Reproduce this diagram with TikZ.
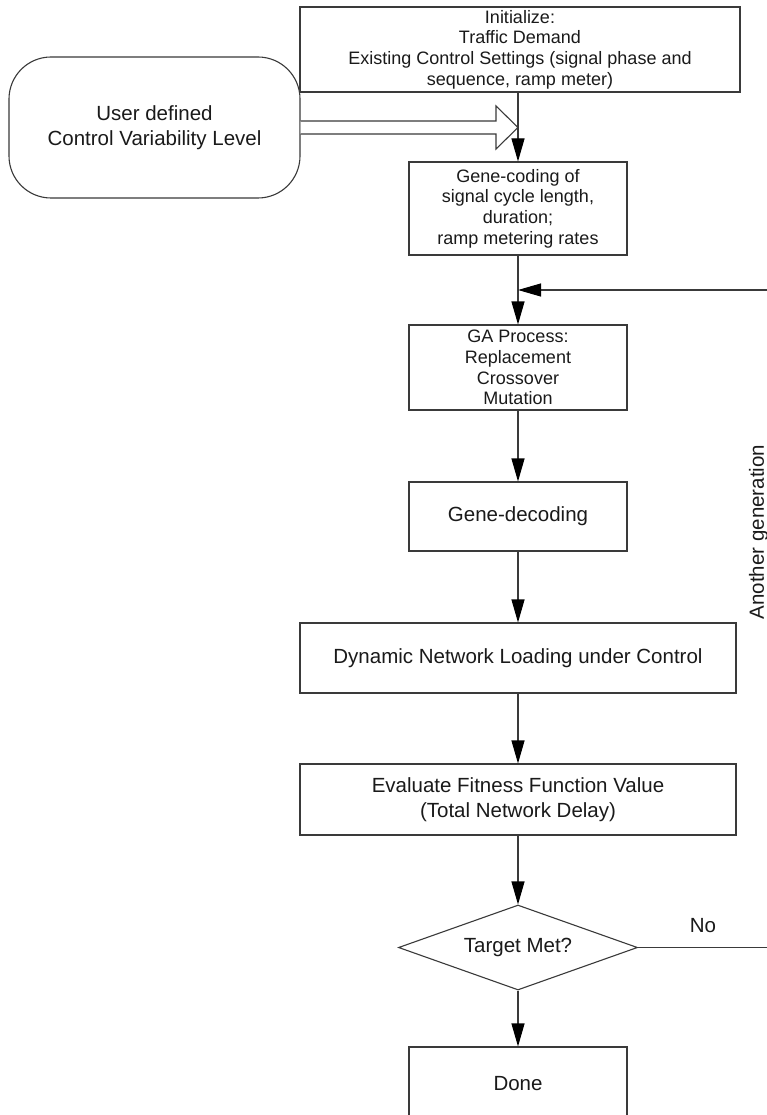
\documentclass[tikz,border=0pt]{standalone}
\usepackage{fontspec}
\setmainfont{Liberation Sans}
\usetikzlibrary{shapes.geometric,arrows.meta}
\definecolor{ln}{HTML}{3A3A3A}
\definecolor{tx}{HTML}{1A1A1A}
\begin{document}
\begin{tikzpicture}[x=1pt,y=-1pt,
  box/.style={draw=ln,line width=1.1pt,fill=white,inner sep=0pt,align=center,text=tx},
  big/.style={font=\fontsize{20.5}{24.5}\selectfont},
  small/.style={font=\fontsize{18}{20.7}\selectfont},
  arr/.style={draw=ln,line width=1.1pt,-{Triangle[length=23pt,width=13pt,fill=black,color=black]}},
  plain/.style={draw=ln,line width=1.1pt}]
\useasboundingbox[fill=white] (0,0) rectangle (767,1115);

% nodes
\node[box,small,minimum width=440,minimum height=85] (init) at (520,49.5)
  {Initialize:\\Traffic Demand\\Existing Control Settings (signal phase and\\sequence, ramp meter)};
\node[box,big,rounded corners=42pt,minimum width=291,minimum height=141] (user) at (154.5,127.5)
  {User defined\\Control Variability Level};
\node[box,small,minimum width=218,minimum height=93] (gene) at (518,208.5)
  {Gene-coding of\\signal cycle length,\\duration;\\ramp metering rates};
\node[box,small,minimum width=218,minimum height=85] (ga) at (518,367.5)
  {GA Process:\\Replacement\\Crossover\\Mutation};
\node[box,big,minimum width=218,minimum height=69] (dec) at (518,516.5) {Gene-decoding};
\node[box,big,minimum width=436,minimum height=70] (dyn) at (518,658)
  {Dynamic Network Loading under Control};
\node[box,big,minimum width=436,minimum height=71] (eval) at (518,799.5)
  {Evaluate Fitness Function Value\\(Total Network Delay)};
\node[box,big,diamond,aspect=2.8,minimum width=239,minimum height=85] (tm) at (518,947.5) {Target Met?};
\node[box,big,minimum width=218,minimum height=74] (done) at (518,1084) {Done};

\node[text=tx,big] (no) at (703,926) {No};
\node[text=tx,big,rotate=90] (ag) at (758.5,532) {Another generation};

% coordinates
\coordinate (join) at (518,290);
\coordinate (loopc) at (790,290);

% hollow wide arrow from user box
\draw[plain,fill=white] ([yshift=6.5pt]user.east) -- ([yshift=6.5pt]user.east -| 496,0) -- (496,106)
  -- (518,127.5) -- (496,149) -- ([yshift=-6.5pt]user.east -| 496,0) -- ([yshift=-6.5pt]user.east);

% connectors
\draw[arr] (gene.north |- init.south) -- (gene.north);
\draw[arr] (gene.south) -- (ga.north);
\draw[arr] (tm.east) -- (tm.east -| loopc) -- (loopc) -- (join);
\draw[arr] (ga.south) -- (dec.north);
\draw[arr] (dec.south) -- (dyn.north);
\draw[arr] (dyn.south) -- (eval.north);
\draw[arr] (eval.south) -- (tm.north);
\draw[arr] (tm.south) -- (done.north);
\end{tikzpicture}
\end{document}
